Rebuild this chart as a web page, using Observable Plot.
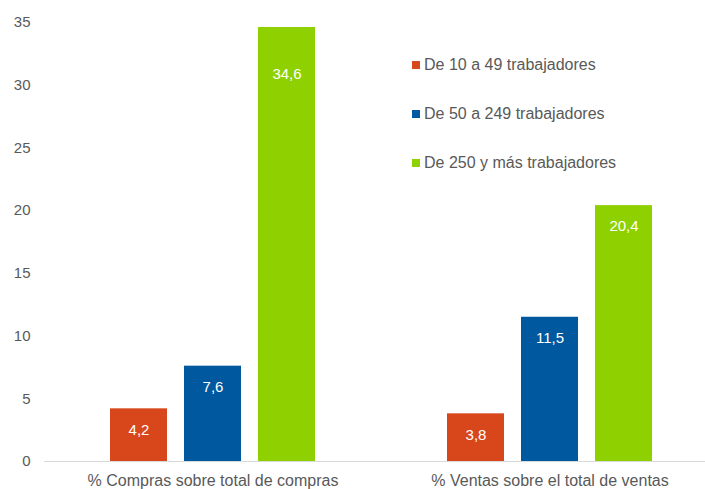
<!DOCTYPE html>
<html>
<head>
<meta charset="utf-8">
<script src="https://cdn.jsdelivr.net/npm/d3@7"></script>
<script src="https://cdn.jsdelivr.net/npm/@observablehq/plot@0.6"></script>
<style>
  html, body { margin: 0; padding: 0; background: #fff; overflow: hidden; }
  #wrap { position: relative; width: 705px; height: 489px; overflow: hidden; font-family: "Liberation Sans", Arial, sans-serif; }
  #legend { position: absolute; left: 412px; top: 53px; color: #595959; font-size: 16px; }
  #legend .row { display: flex; align-items: center; height: 24px; margin-bottom: 25px; white-space: nowrap; }
  #legend .sw { width: 8px; height: 8px; margin-right: 4px; flex: none; }
</style>
</head>
<body>
<div id="wrap"><div id="legend"></div></div>
<script>
const groups = ["% Compras sobre total de compras", "% Ventas sobre el total de ventas"];
const series = ["De 10 a 49 trabajadores", "De 50 a 249 trabajadores", "De 250 y más trabajadores"];
const colors = ["#D8461B", "#00599E", "#8FD100"];
const compras = [4.2, 7.6, 34.6];
const ventas = [3.8, 11.5, 20.4];
const yTicks = [0, 5, 10, 15, 20, 25, 30, 35];

const data = [];
series.forEach((s, i) => {
  data.push({group: groups[0], series: s, value: compras[i]});
  data.push({group: groups[1], series: s, value: ventas[i]});
});
const fmt = v => v.toLocaleString("es-ES", {minimumFractionDigits: 1, maximumFractionDigits: 1});
const maxV = d3.max(data, d => d.value);

const chart = Plot.plot({
  width: 705,
  height: 489,
  marginTop: 22,
  marginBottom: 28,
  marginLeft: 44,
  marginRight: 0,
  style: {fontFamily: "'Liberation Sans', Arial, sans-serif", color: "#595959", background: "transparent", overflow: "visible"},
  fx: {domain: groups, range: [44, 718], padding: 0, label: null},
  x: {domain: series, paddingInner: 0.23, paddingOuter: 0.87, axis: null},
  y: {domain: [0, 35], label: null},
  color: {domain: series, range: colors},
  marks: [
    Plot.axisY({ticks: yTicks, tickSize: 0, tickPadding: 14, fontSize: 15, label: null, fill: "#595959"}),
    Plot.axisFx({anchor: "bottom", tickSize: 0, tickPadding: 13, fontSize: 16, label: null, fill: "#595959"}),
    Plot.barY(data, {fx: "group", x: "series", y: "value", fill: "series"}),
    Plot.ruleY([0], {stroke: "#D9D9D9", strokeWidth: 1}),
    Plot.text(data.filter(d => d.value !== maxV), {fx: "group", x: "series", y: "value", text: d => fmt(d.value), fill: "white", fontSize: 15, dy: 21}),
    Plot.text(data.filter(d => d.value === maxV), {fx: "group", x: "series", y: "value", text: d => fmt(d.value), fill: "white", fontSize: 15, dy: 47})
  ]
});
document.getElementById("wrap").prepend(chart);

const legend = document.getElementById("legend");
series.forEach((s, i) => {
  const row = document.createElement("div");
  row.className = "row";
  const sw = document.createElement("span");
  sw.className = "sw";
  sw.style.background = colors[i];
  const t = document.createElement("span");
  t.textContent = s;
  row.append(sw, t);
  legend.append(row);
});
</script>
</body>
</html>
